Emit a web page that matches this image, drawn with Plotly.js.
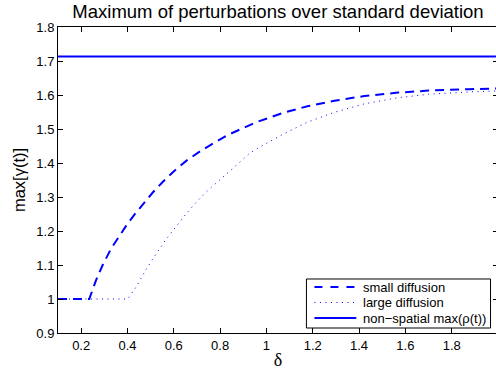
<!DOCTYPE html>
<html>
<head>
<meta charset="utf-8">
<script src="https://cdn.plot.ly/plotly-3.0.1.min.js"></script>
<style>
html,body{margin:0;padding:0;overflow:hidden;background:#fff;}
#chart{width:500px;height:370px;}
</style>
</head>
<body>
<div id="chart"></div>
<script>
// delta values and max[gamma(t)]
const deltaSmall = [0.1, 0.235, 0.264, 0.293, 0.329, 0.365, 0.394, 0.43, 0.474, 0.51, 0.553, 0.604, 0.655, 0.713, 0.771, 0.829, 0.9, 0.96, 1.075, 1.177, 1.293, 1.423, 1.568, 1.699, 1.873, 2.0];
const gammaSmall = [1, 1, 1.055, 1.100, 1.148, 1.187, 1.215, 1.248, 1.285, 1.314, 1.345, 1.378, 1.407, 1.434, 1.458, 1.481, 1.503, 1.521, 1.548, 1.567, 1.583, 1.597, 1.607, 1.613, 1.617, 1.619];

const deltaLarge = [0.1, 0.401, 0.438, 0.481, 0.525, 0.568, 0.612, 0.655, 0.699, 0.742, 0.786, 0.829, 0.873, 0.93, 0.974, 1.075, 1.177, 1.293, 1.423, 1.568, 1.699, 1.873, 2.0];
const gammaLarge = [1, 1, 1.036, 1.088, 1.134, 1.177, 1.215, 1.252, 1.286, 1.316, 1.343, 1.370, 1.395, 1.430, 1.448, 1.486, 1.520, 1.549, 1.574, 1.592, 1.602, 1.609, 1.612];

const deltaRho = [0.1, 2.0];
const maxRho = [1.713, 1.713];

const seriesNames = ['small diffusion', 'large diffusion', 'non\u2212spatial max(\u03c1(t))'];
const xTicks = [0.2, 0.4, 0.6, 0.8, 1, 1.2, 1.4, 1.6, 1.8, 2];
const yTicks = [0.9, 1, 1.1, 1.2, 1.3, 1.4, 1.5, 1.6, 1.7, 1.8];

const blue = '#0000ff';
const sans = 'Liberation Sans, Arial, Helvetica, sans-serif';
const lineStyles = [
  {color: blue, width: 2, dash: '8px,8px'},
  {color: blue, width: 1, dash: '1px,4.5px'},
  {color: blue, width: 2}
];
const xs = [deltaSmall, deltaLarge, deltaRho];
const ys = [gammaSmall, gammaLarge, maxRho];

const traces = xs.map((x, i) => ({
  x: x, y: ys[i], name: seriesNames[i], mode: 'lines',
  line: Object.assign({}, lineStyles[i], i === 0 ? {dash: '9px,6px'} : {}),
  showlegend: false
}));

// legend box drawn in paper coordinates (MATLAB-style compact legend)
const legBox = {x0: 0.5646, x1: 0.9830, y0: 0.0163, y1: 0.1765};
const legRowsY = [0.1503, 0.0997, 0.0490];
const legLineX = [0.5828, 0.6780];
const legTextX = 0.6893;

const shapes = [{
  type: 'rect', xref: 'paper', yref: 'paper',
  x0: legBox.x0, x1: legBox.x1, y0: legBox.y0, y1: legBox.y1,
  line: {color: '#000', width: 1}, fillcolor: '#fff', layer: 'above'
}].concat(legRowsY.map((yy, i) => ({
  type: 'line', xref: 'paper', yref: 'paper',
  x0: legLineX[0], x1: legLineX[1], y0: yy, y1: yy,
  line: lineStyles[i], layer: 'above'
})));

const annotations = legRowsY.map((yy, i) => ({
  xref: 'paper', yref: 'paper', x: legTextX, y: yy,
  xanchor: 'left', yanchor: 'middle', showarrow: false,
  text: seriesNames[i], font: {family: sans, size: 13, color: '#000'}
}));

const axisCommon = {
  showline: true, linecolor: '#000', linewidth: 1, mirror: 'ticks',
  ticks: 'inside', ticklen: 5, tickcolor: '#000', tickwidth: 1,
  showgrid: false, zeroline: false,
  tickfont: {family: sans, size: 13, color: '#000'}
};

const layout = {
  width: 500, height: 370,
  margin: {l: 58, r: 2, t: 27, b: 37},
  paper_bgcolor: '#fff', plot_bgcolor: '#fff',
  title: {text: 'Maximum of perturbations over standard deviation',
          font: {family: sans, size: 18.5, color: '#000'},
          x: 0.5, xref: 'paper', xanchor: 'center', y: 0.968, yref: 'container', yanchor: 'middle'},
  xaxis: Object.assign({}, axisCommon, {
    range: [0.1, 2], tickvals: xTicks, ticktext: xTicks.map(String),
    title: {text: '\u03b4', font: {family: 'Liberation Serif, Times New Roman, serif', size: 18, color: '#000'}, standoff: 4}
  }),
  yaxis: Object.assign({}, axisCommon, {
    range: [0.9, 1.8], tickvals: yTicks, ticktext: yTicks.map(String),
    title: {text: 'max[\u03b3(t)]', font: {family: sans, size: 16.5, color: '#000'}, standoff: 6}
  }),
  showlegend: false,
  shapes: shapes,
  annotations: annotations
};

Plotly.newPlot('chart', traces, layout, {displayModeBar: false, staticPlot: true});
</script>
</body>
</html>
